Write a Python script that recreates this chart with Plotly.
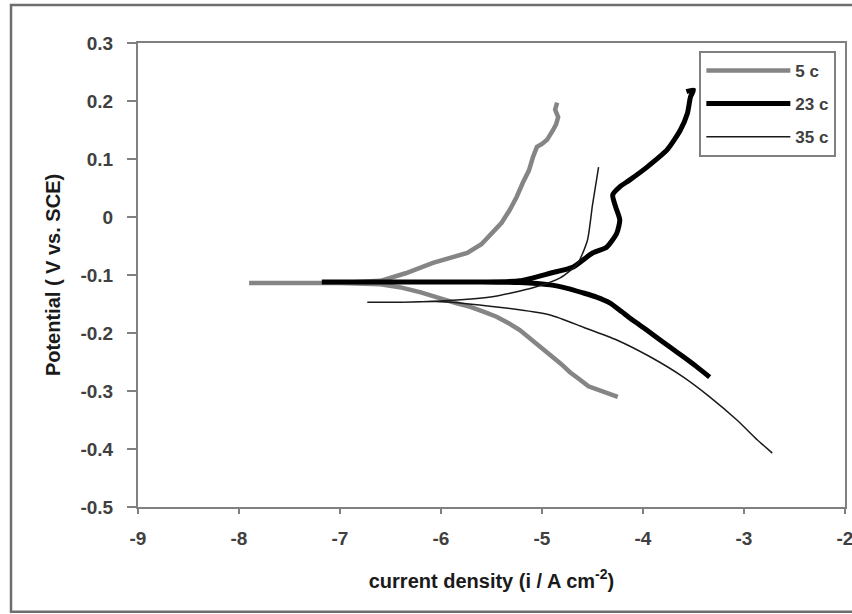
import plotly.graph_objects as go

# ---- data (log current density, potential) ----
c5_x = [-4.25, -4.30, -4.37, -4.46, -4.54, -4.62, -4.72, -4.82, -4.92, -5.02, -5.12, -5.22, -5.33, -5.45, -5.58, -5.71,
        -5.86, -6.01, -6.20, -6.41, -6.60, -7.00, -7.50, -7.90,
        -7.50, -7.00, -6.60, -6.35, -6.08, -5.90, -5.74, -5.60, -5.49, -5.40, -5.32, -5.25, -5.19, -5.13, -5.09,
        -5.05, -5.00, -4.95, -4.89, -4.86, -4.84, -4.87, -4.85]
c5_y = [-0.310, -0.307, -0.303, -0.298, -0.292, -0.281, -0.268, -0.252, -0.238, -0.224, -0.210, -0.195, -0.183, -0.172, -0.163, -0.155,
        -0.148, -0.140, -0.130, -0.121, -0.116, -0.114, -0.114, -0.114,
        -0.114, -0.114, -0.110, -0.097, -0.079, -0.070, -0.062, -0.047, -0.028, -0.010, 0.012, 0.035, 0.059, 0.080, 0.103,
        0.121, 0.126, 0.133, 0.150, 0.160, 0.172, 0.185, 0.197]

c23_x = [-3.34, -3.47, -3.60, -3.72, -3.83, -3.97, -4.10, -4.22, -4.33, -4.46, -4.59, -4.75, -4.92, -5.22, -5.61, -6.40, -7.18,
         -6.40, -5.61, -5.22, -4.92, -4.69, -4.50, -4.36, -4.26, -4.23, -4.27, -4.30, -4.23, -4.13, -3.96, -3.76,
         -3.63, -3.56, -3.53, -3.50, -3.57]
c23_y = [-0.276, -0.258, -0.241, -0.226, -0.212, -0.194, -0.178, -0.162, -0.148, -0.138, -0.131, -0.123, -0.117, -0.113, -0.112, -0.112, -0.112,
         -0.112, -0.112, -0.110, -0.097, -0.086, -0.062, -0.052, -0.028, -0.005, 0.017, 0.038, 0.052, 0.064, 0.086, 0.116,
         0.150, 0.179, 0.207, 0.219, 0.216]

c35_x = [-2.72, -2.87, -3.07, -3.34, -3.60, -3.93, -4.26, -4.59, -4.92, -5.45, -6.01, -6.40, -6.73,
         -6.40, -6.01, -5.51, -5.09, -4.82, -4.65, -4.55, -4.50, -4.46, -4.44]
c35_y = [-0.407, -0.384, -0.350, -0.310, -0.276, -0.241, -0.212, -0.190, -0.169, -0.155, -0.146, -0.147, -0.147,
         -0.147, -0.145, -0.138, -0.122, -0.105, -0.081, -0.040, 0.021, 0.064, 0.086]

series_names = ["5 c", "23 c", "35 c"]
x_ticks = [-9, -8, -7, -6, -5, -4, -3, -2]
x_tick_text = ["-9", "-8", "-7", "-6", "-5", "-4", "-3", "-2"]
y_ticks = [0.3, 0.2, 0.1, 0, -0.1, -0.2, -0.3, -0.4, -0.5]
y_tick_text = ["0.3", "0.2", "0.1", "0", "-0.1", "-0.2", "-0.3", "-0.4", "-0.5"]

FONT = "Liberation Sans, Arial, sans-serif"

fig = go.Figure()
fig.add_trace(go.Scatter(x=c5_x, y=c5_y, mode="lines", name=series_names[0], legendgroup="a",
                         line=dict(color="#858585", width=4.5)))
fig.add_trace(go.Scatter(x=c23_x, y=c23_y, mode="lines", name=series_names[1], legendgroup="b",
                         line=dict(color="#000000", width=5, shape="spline", smoothing=0.6)))
fig.add_trace(go.Scatter(x=c35_x, y=c35_y, mode="lines", name=series_names[2], legendgroup="c",
                         line=dict(color="#1a1a1a", width=1.5, shape="spline", smoothing=0.6)))

axis_common = dict(showline=True, linecolor="#808080", linewidth=2, mirror=True,
                   showgrid=False, zeroline=False, ticks="outside", tickcolor="#808080", tickwidth=1.5,
                   automargin=False, ticklabeloverflow="allow",
                   tickfont=dict(family=FONT, size=19, color="#404040", weight="bold"))

fig.update_xaxes(range=[-9, -2], tickvals=x_ticks, ticktext=x_tick_text, ticklen=5, ticklabelstandoff=8,
                 title=dict(text="current density (i / A cm<sup>-2</sup>)",
                            font=dict(family=FONT, size=20, color="#1a1a1a", weight="bold"), standoff=26),
                 **axis_common)
fig.update_yaxes(range=[-0.5, 0.3], tickvals=y_ticks, ticktext=y_tick_text, ticklen=9, ticklabelstandoff=10,
                 title=dict(text="Potential ( V vs. SCE)",
                            font=dict(family=FONT, size=20, color="#1a1a1a", weight="bold"), standoff=14),
                 **axis_common)

fig.update_layout(
    width=852, height=614,
    margin=dict(l=138, r=7, t=43, b=107),
    paper_bgcolor="white", plot_bgcolor="white",
    showlegend=True,
    legend=dict(x=0.794, y=0.983, xanchor="left", yanchor="top",
                bgcolor="white", bordercolor="#808080", borderwidth=2,
                font=dict(family=FONT, size=17, color="#404040", weight="bold"),
                tracegroupgap=8, itemwidth=84),
    shapes=[dict(type="rect", xref="paper", yref="paper",
                 x0=-0.1796, x1=1.02, y0=-0.226, y1=1.082,
                 line=dict(color="#6e6e6e", width=2.5), layer="below")],
)

fig.write_html("out.html", config={"displayModeBar": False},
               post_script="document.body.style.margin='0';document.body.style.overflow='hidden';")
